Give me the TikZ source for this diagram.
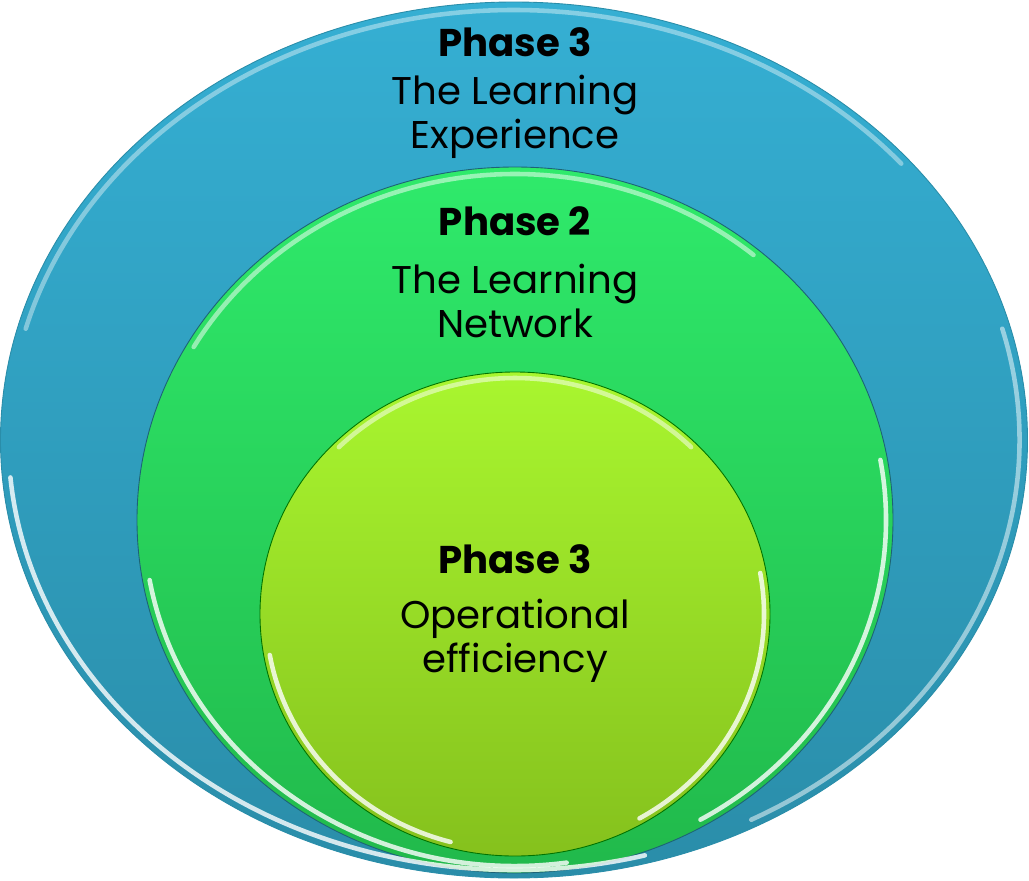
\documentclass[tikz,border=0pt]{standalone}
\usepackage{fontspec}
\setmainfont{Poppins}
\usetikzlibrary{positioning, shapes.geometric}

\definecolor{blueTop}{HTML}{35AFD3}
\definecolor{blueBot}{HTML}{2A8DA9}
\definecolor{greenTop}{HTML}{2FEA6B}
\definecolor{greenBot}{HTML}{21B94B}
\definecolor{limeTop}{HTML}{A9F62F}
\definecolor{limeBot}{HTML}{85C11D}

\begin{document}
\begin{tikzpicture}[
        phasering/.style={ellipse, inner sep=0pt, line width=0.5pt},
        rim/.style={white, line width=2.6pt, line cap=round, opacity=0.5},
        phasehead/.style={anchor=base, font=\fontsize{22}{22}\selectfont\bfseries},
        phasebody/.style={anchor=base, align=center, font=\fontsize{22}{25}\selectfont},
    ]
        \useasboundingbox (0,0) rectangle (20.58,-17.60);

        % three nested phases
        \node[phasering, minimum width=20.54cm, minimum height=17.52cm, top color=blueTop, bottom color=blueBot, draw=blueBot] (outer) at (10.28,-8.80) {};
        \node[phasering, minimum width=15.12cm, minimum height=14.12cm, top color=greenTop, bottom color=greenBot, draw=blueBot!70!black] (middle) at (10.30,-10.40) {};
        \node[phasering, minimum width=10.20cm, minimum height=9.68cm, top color=limeTop, bottom color=limeBot, draw=green!45!black] (inner) at (10.30,-12.28) {};

        % glossy rims
        \draw[rim, opacity=0.4] (outer.center) ++(40:10.11 and 8.60) arc[start angle=40, end angle=165, x radius=10.11, y radius=8.60];
        \draw[rim, opacity=0.8] (outer.center) ++(185:10.11 and 8.60) arc[start angle=185, end angle=285, x radius=10.11, y radius=8.60];
        \draw[rim] (outer.center) ++(-62:10.11 and 8.60) arc[start angle=-62, end angle=15, x radius=10.11, y radius=8.60];

        \draw[rim] (middle.center) ++(50:7.42 and 6.92) arc[start angle=50, end angle=150, x radius=7.42, y radius=6.92];
        \draw[rim, opacity=0.8] (middle.center) ++(190:7.42 and 6.92) arc[start angle=190, end angle=278, x radius=7.42, y radius=6.92];
        \draw[rim, opacity=0.8] (middle.center) ++(-60:7.42 and 6.92) arc[start angle=-60, end angle=10, x radius=7.42, y radius=6.92];

        \draw[rim] (inner.center) ++(45:4.98 and 4.72) arc[start angle=45, end angle=135, x radius=4.98, y radius=4.72];
        \draw[rim, opacity=0.8] (inner.center) ++(190:4.98 and 4.72) arc[start angle=190, end angle=255, x radius=4.98, y radius=4.72];
        \draw[rim, opacity=0.8] (inner.center) ++(-60:4.98 and 4.72) arc[start angle=-60, end angle=10, x radius=4.98, y radius=4.72];

        % labels
        \node[phasehead] (outerhead) at (10.30,-1.12) {Phase 3};
        \node[phasebody] (outerbody) at (10.30,-2.96) {The Learning\\Experience};

        \node[phasehead] (middlehead) at (10.30,-4.70) {Phase 2};
        \node[phasebody] (middlebody) at (10.30,-6.74) {The Learning\\Network};

        \node[phasehead] (innerhead) at (10.30,-11.46) {Phase 3};
        \node[phasebody] (innerbody) at (10.30,-13.44) {Operational\\efficiency};
    \end{tikzpicture}
\end{document}
